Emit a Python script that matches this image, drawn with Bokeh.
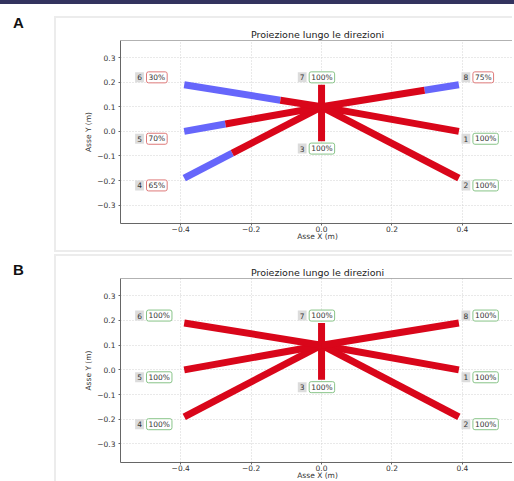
from bokeh.plotting import figure
from bokeh.models import Div, Span, CustomJSTickFormatter, FixedTicker, ColumnDataSource, Range1d
from bokeh.layouts import column, row
from bokeh.core.properties import value
from bokeh.embed import file_html
from bokeh.resources import INLINE

# ---------------- data ----------------
dir_ids = ["1", "2", "3", "4", "5", "6", "7", "8"]
center_x = 0.0
center_y = 0.1
end_x = [0.39, 0.39, 0.0, -0.39, -0.39, -0.39, 0.0, 0.39]
end_y = [0.0, -0.19, -0.04, -0.19, 0.0, 0.19, 0.19, 0.19]
pct_A = [100, 100, 100, 65, 70, 30, 100, 75]
pct_B = [100, 100, 100, 100, 100, 100, 100, 100]
x_ticks = [-0.4, -0.2, 0.0, 0.2, 0.4]
y_ticks = [-0.3, -0.2, -0.1, 0.0, 0.1, 0.2, 0.3]
title_text = "Proiezione lungo le direzioni"
x_label = "Asse X (m)"
y_label = "Asse Y (m)"
panel_labels = ["A", "B"]

RED = "#d9061a"
BLUE = "#6666fb"
FONT = "DejaVu Sans"

fmt = CustomJSTickFormatter(code="""
    const s = tick.toFixed(1);
    return s.replace('-', '\\u2212');
""")


def make_panel(pcts, height, mb_top, mb_bottom, styles):
    p = figure(width=458, height=height, output_backend="svg", toolbar_location=None,
               x_range=Range1d(-0.571, 0.548), y_range=Range1d(-0.375, 0.37),
               min_border_left=64, min_border_right=0, min_border_top=mb_top,
               min_border_bottom=mb_bottom, styles=styles, margin=0)
    p.outline_line_color = None
    p.background_fill_color = "white"
    p.border_fill_color = "white"

    p.title.text = title_text
    p.title.text_font = FONT
    p.title.text_font_size = "9.5px"
    p.title.text_font_style = "normal"
    p.title.text_color = "#222222"
    p.title.align = "center"
    p.title.offset = 9
    p.title.standoff = 2

    for ax in (p.xaxis[0], p.yaxis[0]):
        ax.axis_line_color = "#666666"
        ax.major_tick_line_color = "#666666"
        ax.major_tick_out = 2
        ax.major_tick_in = 0
        ax.minor_tick_line_color = None
        ax.major_label_text_font = FONT
        ax.major_label_text_font_size = "7.5px"
        ax.major_label_text_color = "#333333"
        ax.axis_label_text_font = FONT
        ax.axis_label_text_font_size = "7.5px"
        ax.axis_label_text_font_style = "normal"
        ax.axis_label_text_color = "#333333"
        ax.formatter = fmt
    p.xaxis[0].ticker = FixedTicker(ticks=x_ticks)
    p.yaxis[0].ticker = FixedTicker(ticks=y_ticks)
    p.xaxis[0].axis_label = x_label
    p.yaxis[0].axis_label = y_label
    p.xaxis[0].major_label_standoff = 0
    p.xaxis[0].axis_label_standoff = -3
    p.yaxis[0].major_label_standoff = 3
    p.yaxis[0].axis_label_standoff = 1

    for g in (p.xgrid[0], p.ygrid[0]):
        g.grid_line_color = "#d2d2d2"
        g.grid_line_dash = "1 2"
        g.grid_line_width = 1
    p.xgrid[0].ticker = FixedTicker(ticks=x_ticks)
    p.ygrid[0].ticker = FixedTicker(ticks=y_ticks)

    p.add_layout(Span(location=0.37, dimension="width", line_color="#666666", line_width=1))

    # segments
    mid_x = [center_x + q / 100 * (ex - center_x) for ex, q in zip(end_x, pcts)]
    mid_y = [center_y + q / 100 * (ey - center_y) for ey, q in zip(end_y, pcts)]
    src = ColumnDataSource(dict(
        cx=[center_x] * len(end_x), cy=[center_y] * len(end_y),
        mx=mid_x, my=mid_y, ex=end_x, ey=end_y))
    p.segment(x0="mx", y0="my", x1="ex", y1="ey", source=src,
              line_color=BLUE, line_width=7, line_cap="butt")
    p.segment(x0="cx", y0="cy", x1="mx", y1="my", source=src,
              line_color=RED, line_width=7, line_cap="butt")

    # labels
    lx, ly = [], []
    for ex, ey in zip(end_x, end_y):
        if ex > 0.1:
            lx.append(ex + 0.02)
        elif ex < -0.1:
            lx.append(ex - 0.127)
        else:
            lx.append(ex - 0.055)
        ly.append(ey + 0.03 if ey > center_y else ey - 0.03)
    ptxt = [f"{q}%" for q in pcts]
    pcol = ["#88c488" if q >= 100 else "#de7a7a" for q in pcts]
    lsrc = ColumnDataSource(dict(x=lx, y=ly, num=dir_ids, pt=ptxt, bc=pcol))
    p.text(x="x", y="y", text="num", source=lsrc, text_font=value(FONT),
           text_font_size="7.5px", text_color="#333333", text_align="center",
           text_baseline="middle", background_fill_color="#dcdcdc", padding=2)
    p.text(x="x", y="y", text="pt", source=lsrc, text_font=value(FONT),
           text_font_size="7.5px", text_color="#333333", text_align="left",
           text_baseline="middle", x_offset=7, background_fill_color="white",
           border_line_color="bc", border_line_width=1, padding=(2, 1), border_radius=2)
    return p


card = "2px solid #ececec"
pA = make_panel(pct_A, 236, 22, 31,
                {"border-left": card, "border-top": card, "border-bottom": card})
pB = make_panel(pct_B, 230, 22, 24, {"border-left": card, "border-top": card})

bar = Div(text="", width=514, height=4, margin=0,
          styles={"background-color": "#33335f", "overflow": "hidden"})


def label_div(t, top):
    return Div(text=f"<div style=\"font: bold 15px 'Liberation Sans'; color:#111; padding-left:13px; margin-top:{top}px\">{t}</div>",
               width=54, height=24, margin=0)


rowA = row(label_div(panel_labels[0], -3), pA, margin=(12, 0, 0, 0), spacing=0)
rowB = row(label_div(panel_labels[1], 7), pB, margin=(2, 0, 0, 0), spacing=0)
layout = column(bar, rowA, rowB, spacing=0, margin=0)

open("out.html", "w").write(file_html(layout, INLINE))
